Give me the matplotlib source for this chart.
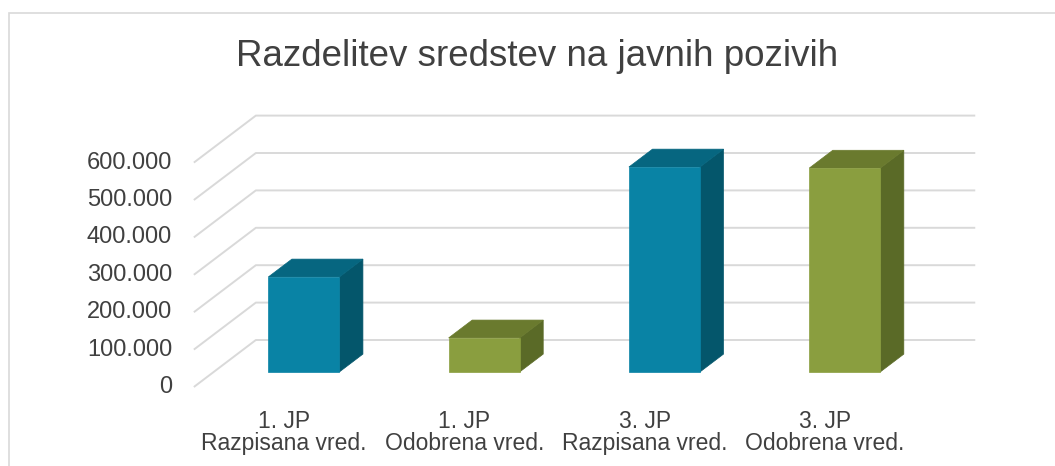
import matplotlib
matplotlib.use("Agg")
import matplotlib.pyplot as plt
from matplotlib.patches import Polygon, Rectangle

# data
categories = ["1. JP\nRazpisana vred.", "1. JP\nOdobrena vred.",
              "3. JP\nRazpisana vred.", "3. JP\nOdobrena vred."]
values = [254000, 91000, 548000, 545000]
series_kind = ["razpisana", "odobrena", "razpisana", "odobrena"]
yticks = [0, 100000, 200000, 300000, 400000, 500000, 600000]
title = "Razdelitev sredstev na javnih pozivih"

# colours: front, top, side
colors = {
    "razpisana": ("#0983a5", "#066680", "#04566b"),
    "odobrena": ("#8a9e3f", "#6a7a2e", "#5a6a27"),
}
grid_col = "#d9d9d9"
text_col = "#404040"

plt.rcParams["font.family"] = ["Liberation Sans", "DejaVu Sans"]

W, H = 1055, 466
fig = plt.figure(figsize=(W / 100, H / 100), dpi=100)
ax = fig.add_axes([0, 0, 1, 1])
ax.axis("off")

# pixel layout -> data scales
px_cat = 180.3          # px per category
px_val = 37.4 / 100000  # px per unit value
x0_px, y0_px = 284, 387  # front plane, category 0, value 0
ax.set_xlim((0 - x0_px) / px_cat, (W - x0_px) / px_cat)
ax.set_ylim((y0_px - H) / px_val, y0_px / px_val)

# oblique depth vector (front plane -> back wall)
DX = 62 / px_cat
DY = 47 / px_val
t_front, t_back = 0.32, 0.70
bar_w = 0.394
c_lo, c_hi = -0.5, 3.49


def proj(x, y, t):
    return (x + t * DX, y + t * DY)


# chart border
fig.patches.append(Rectangle((9 / W, -0.1), 1.2, (H - 13) / H + 0.1,
                             transform=fig.transFigure, fill=False,
                             edgecolor=grid_col, lw=1.2))

# grid: left wall diagonals + back wall lines
for v in yticks:
    pts = [proj(c_lo, v, 0), proj(c_lo, v, 1), proj(c_hi, v, 1)]
    ax.plot([p[0] for p in pts], [p[1] for p in pts], color=grid_col,
            lw=1.4, zorder=1, solid_capstyle="butt")
    ax.text(c_lo - 0.12, v, f"{v:,}".replace(",", "."), ha="right",
            va="center", fontsize=17, color=text_col)

# bars
for i, (v, kind) in enumerate(zip(values, series_kind)):
    front, top, side = colors[kind]
    xl, xr = i - bar_w / 2, i + bar_w / 2
    side_poly = [proj(xr, 0, t_front), proj(xr, 0, t_back),
                 proj(xr, v, t_back), proj(xr, v, t_front)]
    top_poly = [proj(xl, v, t_front), proj(xl, v, t_back),
                proj(xr, v, t_back), proj(xr, v, t_front)]
    ax.add_patch(Polygon(side_poly, closed=True, facecolor=side,
                         edgecolor=side, lw=0.5, zorder=3))
    ax.add_patch(Polygon(top_poly, closed=True, facecolor=top,
                         edgecolor=top, lw=0.5, zorder=3))
    bx, by = proj(i, 0, t_front)
    ax.bar(bx, v, bottom=by, width=bar_w, color=front, edgecolor=front,
           lw=0.5, zorder=4)

# category labels, below the front edge of the floor
label_y = -(410 - y0_px) / px_val
for i, lab in enumerate(categories):
    ax.text(i, label_y, lab, ha="center", va="top", fontsize=16.5,
            color=text_col, linespacing=0.95)

fig.text(537 / W, 1 - 57 / H, title, ha="center", va="center",
         fontsize=26.5, color=text_col)

fig.savefig("out.png", dpi=100)
